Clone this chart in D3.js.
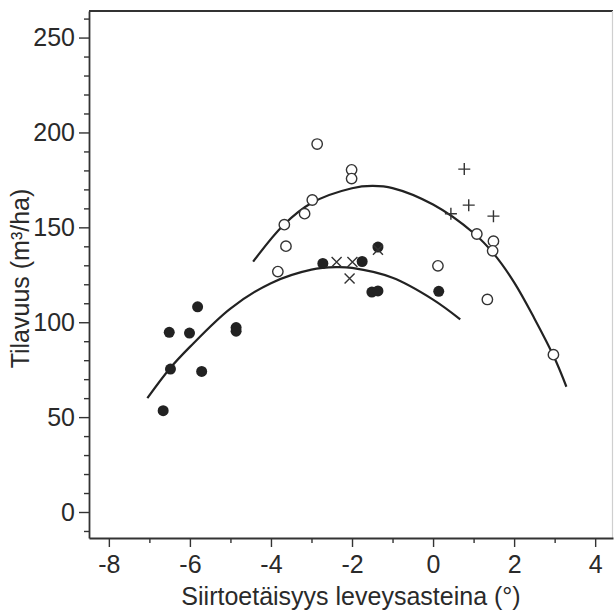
<!DOCTYPE html>
<html>
<head>
<meta charset="utf-8">
<script src="https://d3js.org/d3.v7.min.js"></script>
<style>
  body { margin: 0; background: #fff; }
  svg { display: block; }
  text { font-family: "Liberation Sans", Arial, sans-serif; fill: #2a2a2a; }
</style>
</head>
<body>
<div id="chart"></div>
<script>
// Data
// filled circles
const filledPts = [
  [-6.66, 53.4], [-6.51, 94.7], [-6.48, 75.3], [-6.01, 94.3], [-5.81, 108.1],
  [-5.71, 74.1], [-4.86, 97.2], [-4.86, 95.3], [-2.72, 131.0], [-1.75, 132.0],
  [-1.51, 115.9], [-1.36, 116.5], [-1.36, 139.6], [0.14, 116.3]
];
// open circles
const openPts = [
  [-2.86, 193.9], [-2.01, 180.3], [-2.01, 175.7], [-2.98, 164.4], [-3.17, 157.2],
  [-3.67, 151.4], [-3.63, 140.1], [-3.83, 126.7], [0.12, 129.7], [1.08, 146.5],
  [1.49, 142.7], [1.47, 137.6], [1.34, 112.0], [2.97, 82.9]
];
// plus markers
const plusPts = [[0.77, 180.7], [0.88, 161.7], [0.44, 157.2], [1.49, 155.9]];
// x markers
const crossPts = [[-2.38, 131.8], [-1.99, 131.8], [-2.06, 123.1], [-1.36, 138.2]];

// fitted curves, points
const upperCurve = [
  [-4.44, 131.9], [-3.7, 151], [-3.0, 162.8], [-2.0, 170.6], [-1.5, 171.8],
  [-1.0, 170.7], [0, 162], [1, 147], [1.5, 136], [2, 121], [2.5, 102],
  [3, 81], [3.29, 66]
];
const lowerCurve = [
  [-7.05, 60], [-6.5, 75.5], [-6, 87], [-5, 107.2], [-4, 120.6], [-3, 127.7],
  [-2.4, 129], [-2, 128.6], [-1, 123.4], [0, 111.9], [0.67, 101.5]
];

const xTicks = [-8, -6, -4, -2, 0, 2, 4];
const xMinor = [-7, -5, -3, -1, 1, 3];
const yTicks = [0, 50, 100, 150, 200, 250];
const yMinor = d3.range(-10, 261, 10).filter(v => v % 50 !== 0);

const width = 614, height = 614;
const margin = { top: 11, right: 1, bottom: 76, left: 89 };
const fontSize = 25;

const svg = d3.select("#chart").append("svg")
  .attr("width", width)
  .attr("height", height);

const x = d3.scaleLinear().domain([-8.49, 4.44]).range([margin.left, width - margin.right]);
const y = d3.scaleLinear().domain([-13.7, 264]).range([height - margin.bottom, margin.top]);

const axisColor = "#333";

// frame: top and right
svg.append("line")
  .attr("x1", x.range()[0]).attr("x2", x.range()[1])
  .attr("y1", y.range()[1]).attr("y2", y.range()[1])
  .attr("stroke", axisColor).attr("stroke-width", 1.8);
svg.append("line")
  .attr("x1", x.range()[1] - 0.5).attr("x2", x.range()[1] - 0.5)
  .attr("y1", y.range()[1]).attr("y2", y.range()[0])
  .attr("stroke", "#cfcfcf").attr("stroke-width", 1.2);

// axes
function styleAxis(g) {
  g.select(".domain").attr("stroke", axisColor).attr("stroke-width", 1.8);
  g.selectAll(".tick line").attr("stroke", axisColor).attr("stroke-width", 1.4);
  g.selectAll("text").style("font-size", fontSize + "px").attr("fill", "#2a2a2a");
}

const fmt = d => String(d); // plain hyphen minus, like the original

svg.append("g")
  .attr("transform", `translate(0,${y.range()[0]})`)
  .call(d3.axisBottom(x).tickValues(xTicks).tickFormat(fmt).tickSize(9).tickPadding(8).tickSizeOuter(0))
  .call(styleAxis);

svg.append("g")
  .attr("transform", `translate(0,${y.range()[0]})`)
  .call(d3.axisBottom(x).tickValues(xMinor).tickSize(5).tickFormat("").tickSizeOuter(0))
  .call(g => g.select(".domain").remove())
  .call(styleAxis);

svg.append("g")
  .attr("transform", `translate(${x.range()[0]},0)`)
  .call(d3.axisLeft(y).tickValues(yTicks).tickFormat(fmt).tickSize(10).tickPadding(4).tickSizeOuter(0))
  .call(styleAxis);

svg.append("g")
  .attr("transform", `translate(${x.range()[0]},0)`)
  .call(d3.axisLeft(y).tickValues(yMinor).tickSize(5).tickFormat("").tickSizeOuter(0))
  .call(g => g.select(".domain").remove())
  .call(styleAxis);

// axis titles
svg.append("text")
  .attr("x", (x.range()[0] + x.range()[1]) / 2)
  .attr("y", 605)
  .attr("text-anchor", "middle")
  .style("font-size", fontSize + "px")
  .text("Siirtoetäisyys leveysasteina (°)");

svg.append("text")
  .attr("transform", `translate(29,${(y.range()[0] + y.range()[1]) / 2 + 4}) rotate(-90)`)
  .attr("text-anchor", "middle")
  .style("font-size", fontSize + "px")
  .text("Tilavuus (m³/ha)");

// curves
const line = d3.line()
  .x(d => x(d[0]))
  .y(d => y(d[1]))
  .curve(d3.curveCatmullRom.alpha(0.5));

[upperCurve, lowerCurve].forEach(c => {
  svg.append("path")
    .attr("d", line(c))
    .attr("fill", "none")
    .attr("stroke", "#222")
    .attr("stroke-width", 2.2);
});

// markers
svg.append("g").selectAll("circle.open")
  .data(openPts).join("circle")
  .attr("class", "open")
  .attr("cx", d => x(d[0])).attr("cy", d => y(d[1]))
  .attr("r", 5.2)
  .attr("fill", "#fff")
  .attr("stroke", "#333")
  .attr("stroke-width", 1.4);

svg.append("g").selectAll("circle.filled")
  .data(filledPts).join("circle")
  .attr("class", "filled")
  .attr("cx", d => x(d[0])).attr("cy", d => y(d[1]))
  .attr("r", 5.5)
  .attr("fill", "#222");

const plusSize = 6;
svg.append("g").selectAll("path.plus")
  .data(plusPts).join("path")
  .attr("class", "plus")
  .attr("d", d => {
    const cx = x(d[0]), cy = y(d[1]);
    return `M${cx - plusSize},${cy}H${cx + plusSize}M${cx},${cy - plusSize}V${cy + plusSize}`;
  })
  .attr("stroke", "#333")
  .attr("stroke-width", 1.4);

const crossSize = 5;
svg.append("g").selectAll("path.cross")
  .data(crossPts).join("path")
  .attr("class", "cross")
  .attr("d", d => {
    const cx = x(d[0]), cy = y(d[1]);
    return `M${cx - crossSize},${cy - crossSize}L${cx + crossSize},${cy + crossSize}` +
           `M${cx - crossSize},${cy + crossSize}L${cx + crossSize},${cy - crossSize}`;
  })
  .attr("stroke", "#333")
  .attr("stroke-width", 1.4);
</script>
</body>
</html>
